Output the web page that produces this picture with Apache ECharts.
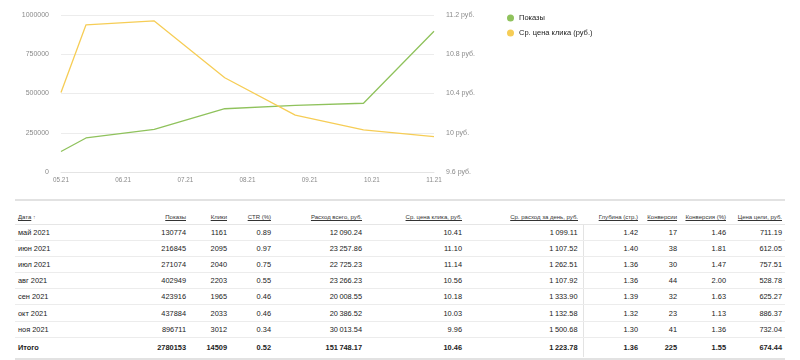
<!DOCTYPE html>
<html>
<head>
<meta charset="utf-8">
<script src="https://cdn.jsdelivr.net/npm/echarts@6/dist/echarts.min.js"></script>
<style>
  html, body { margin: 0; padding: 0; background: #fff; }
  body { width: 800px; height: 360px; position: relative; overflow: hidden; font-family: "Liberation Sans", Arial, sans-serif; }
  #chart { position: absolute; left: 0; top: 0; width: 800px; height: 195px; }
  #topline { position: absolute; left: 15px; top: 199px; width: 770px; height: 2px; background: #e2e2e2; }
  #botline { position: absolute; left: 15px; top: 358px; width: 770px; height: 2px; background: #e2e2e2; }
  table { position: absolute; left: 15px; top: 201px; width: 770px; border-collapse: collapse; table-layout: fixed; color: #222; }
  th { font-weight: normal; font-size: 6px; color: #333; text-align: right; vertical-align: bottom; padding: 0 3px 4px 0; height: 19px; border-bottom: 1px solid #e6e6e6; white-space: nowrap; overflow: visible; }
  th span { text-decoration: underline; }
  th:first-child { text-align: left; padding-left: 3px; }
  td { font-size: 7.4px; text-align: right; padding: 0 3px 0 0; height: 15.1px; border-bottom: 1px solid #ececec; white-space: nowrap; }
  td:first-child { text-align: left; padding-left: 3px; }
  td.sep { border-left: 1px solid #e3e3e3; }
  td.pr5, th.pr5 { padding-right: 5px; }
  tr.total td { font-weight: bold; height: 19px; border-bottom: none; }
  .arrow { color: #777; font-size: 5px; }
</style>
</head>
<body>
<div id="chart"></div>
<div id="topline"></div>
<table id="tbl"></table>
<div id="botline"></div>
<script>
// ---- data ----
var periodStart = ['2021-05-21', '2021-06-01', '2021-07-01', '2021-08-01', '2021-09-01', '2021-10-01', '2021-11-01'];
var months = ['май 2021', 'июн 2021', 'июл 2021', 'авг 2021', 'сен 2021', 'окт 2021', 'ноя 2021'];
var impressions = [130774, 216845, 271074, 402949, 423916, 437884, 896711];
var clicks = [1161, 2095, 2040, 2203, 1965, 2033, 3012];
var ctr = [0.89, 0.97, 0.75, 0.55, 0.46, 0.46, 0.34];
var spend = [12090.24, 23257.86, 22725.23, 23266.23, 20008.55, 20386.52, 30013.54];
var cpc = [10.41, 11.10, 11.14, 10.56, 10.18, 10.03, 9.96];
var dailySpend = [1099.11, 1107.52, 1262.51, 1107.92, 1333.90, 1132.58, 1500.68];
var depth = [1.42, 1.40, 1.36, 1.36, 1.39, 1.32, 1.30];
var conversions = [17, 38, 30, 44, 32, 23, 41];
var convRate = [1.46, 1.81, 1.47, 2.00, 1.63, 1.13, 1.36];
var goalCost = [711.19, 612.05, 757.51, 528.78, 625.27, 886.37, 732.04];
var totals = { label: 'Итого', impressions: 2780153, clicks: 14509, ctr: 0.52, spend: 151748.17, cpc: 10.46, dailySpend: 1223.78, depth: 1.36, conversions: 225, convRate: 1.55, goalCost: 674.44 };
var headers = ['Дата', 'Показы', 'Клики', 'CTR (%)', 'Расход всего, руб.', 'Ср. цена клика, руб.', 'Ср. расход за день, руб.', 'Глубина (стр.)', 'Конверсии', 'Конверсия (%)', 'Цена цели, руб.'];
var seriesNames = ['Показы', 'Ср. цена клика (руб.)'];
var leftTicks = { min: 0, max: 1000000, interval: 250000 };
var rightTicks = { min: 9.6, max: 11.2, interval: 0.4 };

// ---- chart ----
function toUTC(s) { var p = s.split('-'); return Date.UTC(+p[0], +p[1] - 1, +p[2]); }
var t0 = toUTC(periodStart[0]);
var HOUR = 3600000;
var xs = periodStart.map(function (s) { return (toUTC(s) - t0) / HOUR; });
var xMax = xs[xs.length - 1];

var chart = echarts.init(document.getElementById('chart'), null, { renderer: 'canvas' });
var axisLabelColor = '#8a8a8a';
chart.setOption({
  animation: false,
  textStyle: { fontFamily: '"Liberation Sans", Arial, sans-serif' },
  grid: { left: 61, right: 366, top: 15, bottom: 23, containLabel: false },
  legend: {
    orient: 'vertical', left: 502, top: 9, itemWidth: 7, itemHeight: 7, itemGap: 7,
    icon: 'circle', textStyle: { fontSize: 7.5, color: '#222' },
    data: seriesNames
  },
  xAxis: {
    type: 'value', min: 0, max: xMax, interval: xMax / 6,
    axisLine: { show: true, lineStyle: { color: '#e4e4e4' } },
    axisTick: { show: false },
    splitLine: { show: false },
    axisLabel: {
      color: axisLabelColor, fontSize: 6.3, margin: 5,
      formatter: function (v) {
        var d = new Date(t0 + v * HOUR);
        var m = d.getUTCMonth() + 1;
        return (m < 10 ? '0' + m : m) + '.' + String(d.getUTCFullYear()).slice(2);
      }
    }
  },
  yAxis: [
    {
      type: 'value', min: leftTicks.min, max: leftTicks.max, interval: leftTicks.interval,
      axisLine: { show: false }, axisTick: { show: false },
      splitLine: { lineStyle: { color: '#ececec' } },
      axisLabel: { color: axisLabelColor, fontSize: 7, margin: 12, formatter: function (v) { return String(v); } }
    },
    {
      type: 'value', min: rightTicks.min, max: rightTicks.max, interval: rightTicks.interval,
      axisLine: { show: false }, axisTick: { show: false }, splitLine: { show: false },
      axisLabel: { color: axisLabelColor, fontSize: 7, margin: 12, formatter: function (v) { return (+v.toFixed(1)) + ' руб.'; } }
    }
  ],
  series: [
    {
      name: seriesNames[0], type: 'line', yAxisIndex: 0, showSymbol: false, symbol: 'circle',
      itemStyle: { color: '#8fc25c' }, lineStyle: { color: '#8fc25c', width: 1.3 },
      data: xs.map(function (x, i) { return [x, impressions[i]]; })
    },
    {
      name: seriesNames[1], type: 'line', yAxisIndex: 1, showSymbol: false, symbol: 'circle',
      itemStyle: { color: '#f6cd56' }, lineStyle: { color: '#f6cd56', width: 1.3 },
      data: xs.map(function (x, i) { return [x, cpc[i]]; })
    }
  ]
});

// ---- table ----
function grp(v) {
  var s = v.toFixed(2).split('.');
  return s[0].replace(/\B(?=(\d{3})+(?!\d))/g, '\u202F') + '.' + s[1];
}
var widths = [130, 44, 41, 44, 91, 100, 118, 58, 39, 49, 56];
var tbl = document.getElementById('tbl');
var html = '<colgroup>' + widths.map(function (w) { return '<col style="width:' + w + 'px">'; }).join('') + '</colgroup>';
html += '<tr>' + headers.map(function (h, i) {
  if (i === 0) return '<th><span>' + h + '</span> <span class="arrow" style="text-decoration:none">↑</span></th>';
  return '<th' + (i === 6 ? ' class="pr5"' : '') + '><span>' + h + '</span></th>';
}).join('') + '</tr>';
function row(cells, cls) {
  return '<tr' + (cls ? ' class="' + cls + '"' : '') + '>' + cells.map(function (c, i) {
    var k = i === 6 ? ' class="pr5"' : (i === 7 ? ' class="sep"' : '');
    return '<td' + k + '>' + c + '</td>';
  }).join('') + '</tr>';
}
for (var i = 0; i < months.length; i++) {
  html += row([months[i], String(impressions[i]), String(clicks[i]), ctr[i].toFixed(2), grp(spend[i]), cpc[i].toFixed(2), grp(dailySpend[i]), depth[i].toFixed(2), String(conversions[i]), convRate[i].toFixed(2), goalCost[i].toFixed(2)]);
}
html += row([totals.label, String(totals.impressions), String(totals.clicks), totals.ctr.toFixed(2), grp(totals.spend), totals.cpc.toFixed(2), grp(totals.dailySpend), totals.depth.toFixed(2), String(totals.conversions), totals.convRate.toFixed(2), totals.goalCost.toFixed(2)], 'total');
tbl.innerHTML = html;
</script>
</body>
</html>
